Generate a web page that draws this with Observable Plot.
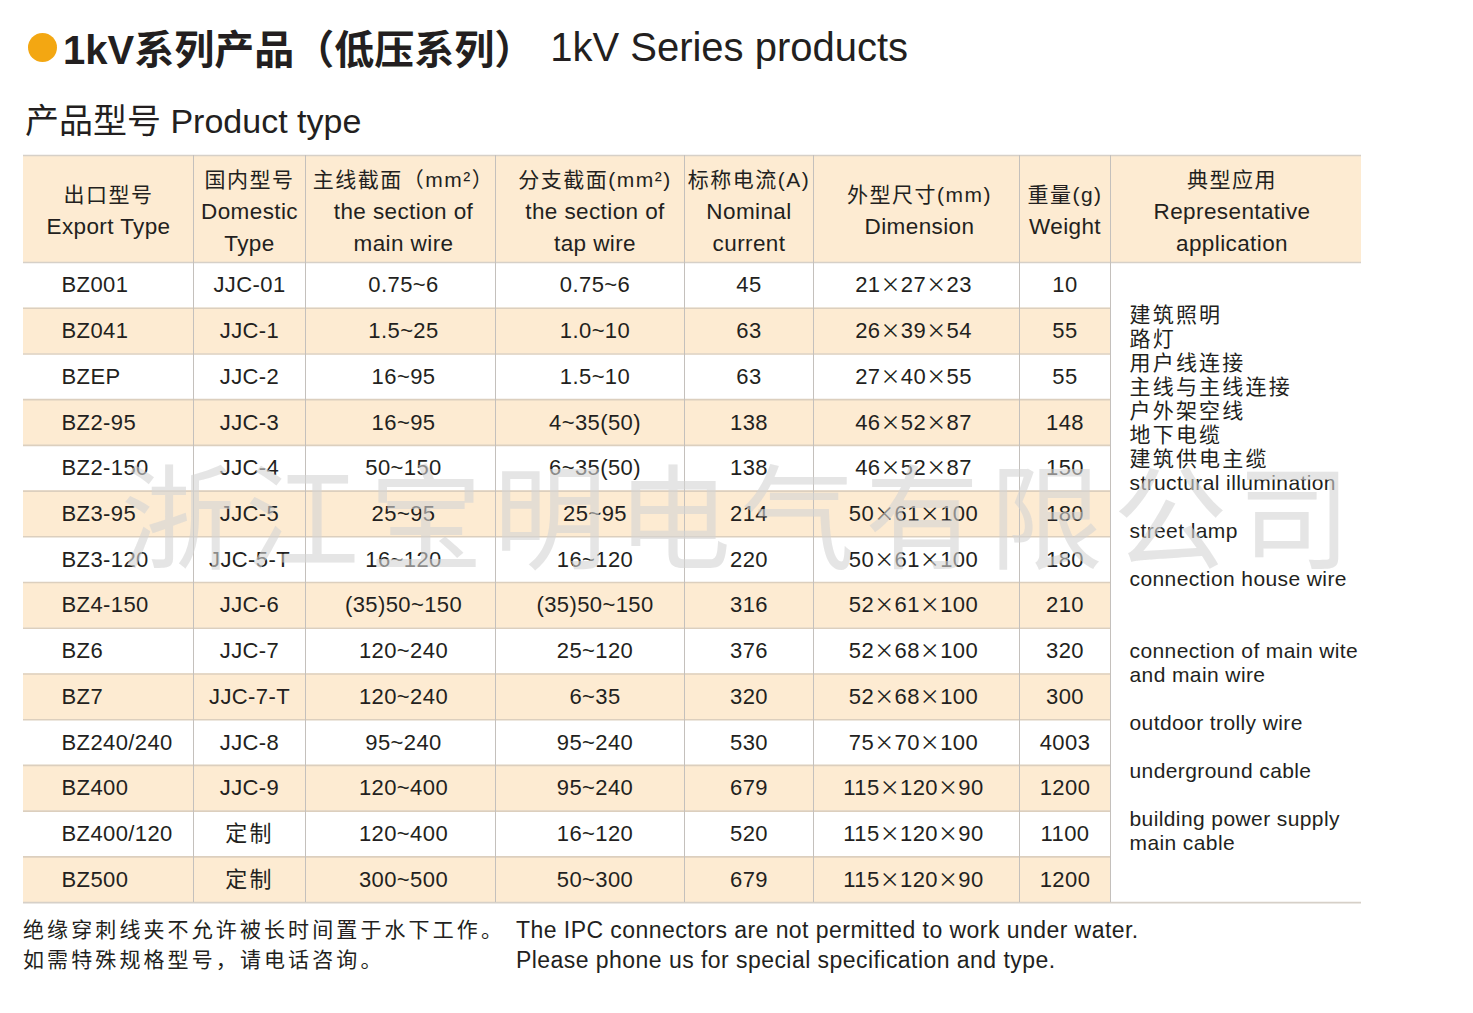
<!DOCTYPE html>
<html><head><meta charset="utf-8">
<script src="https://cdn.jsdelivr.net/npm/d3@7"></script>
<script src="https://cdn.jsdelivr.net/npm/@observablehq/plot@0.6"></script>
<style>
html,body{margin:0;padding:0;background:#fff;}
body{width:1473px;height:1013px;position:relative;overflow:hidden;font-family:"Liberation Sans","Noto Sans CJK SC",sans-serif;color:#231f20;}
#title{position:absolute;left:28px;top:24px;height:46px;display:flex;align-items:center;font-size:40px;white-space:nowrap;}
#title .dot{display:inline-block;width:29px;height:29px;border-radius:50%;background:#F3A712;margin-right:6px;}
#title .zh{font-weight:bold;}
#title .en{margin-left:16px;}
#subtitle{position:absolute;left:25px;top:100px;height:42px;line-height:42px;font-size:34px;white-space:nowrap;}
#chart{position:absolute;left:0;top:150px;}
.foot{position:absolute;top:915px;line-height:30px;white-space:nowrap;}
#footZh{left:23px;font-size:21px;letter-spacing:3.1px;}
#footEn{left:516px;font-size:23px;letter-spacing:0.45px;}
</style>
</head><body>
<div id="title"><span class="dot"></span><span class="zh">1kV系列产品（低压系列）</span><span class="en">1kV Series products</span></div>
<div id="subtitle">产品型号 Product type</div>
<div id="chart"></div>
<div class="foot" id="footZh">绝缘穿刺线夹不允许被长时间置于水下工作。<br>如需特殊规格型号，请电话咨询。</div>
<div class="foot" id="footEn">The IPC connectors are not permitted to work under water.<br>Please phone us for special specification and type.</div>
<script>
// ---- data ----
const headers = [
  "出口型号\nExport Type",
  "国内型号\nDomestic\nType",
  "主线截面（mm²）\nthe section of\nmain wire",
  "分支截面(mm²)\nthe section of\ntap wire",
  "标称电流(A)\nNominal\ncurrent",
  "外型尺寸(mm)\nDimension",
  "重量(g)\nWeight",
  "典型应用\nRepresentative\napplication"
];
const exportType = ["BZ001","BZ041","BZEP","BZ2-95","BZ2-150","BZ3-95","BZ3-120","BZ4-150","BZ6","BZ7","BZ240/240","BZ400","BZ400/120","BZ500"];
const domesticType = ["JJC-01","JJC-1","JJC-2","JJC-3","JJC-4","JJC-5","JJC-5-T","JJC-6","JJC-7","JJC-7-T","JJC-8","JJC-9","定制","定制"];
const mainSection = ["0.75~6","1.5~25","16~95","16~95","50~150","25~95","16~120","(35)50~150","120~240","120~240","95~240","120~400","120~400","300~500"];
const tapSection = ["0.75~6","1.0~10","1.5~10","4~35(50)","6~35(50)","25~95","16~120","(35)50~150","25~120","6~35","95~240","95~240","16~120","50~300"];
const nominalCurrent = [45,63,63,138,138,214,220,316,376,320,530,679,520,679];
const dimension = ["21×27×23","26×39×54","27×40×55","46×52×87","46×52×87","50×61×100","50×61×100","52×61×100","52×68×100","52×68×100","75×70×100","115×120×90","115×120×90","115×120×90"];
const weight = [10,55,55,148,150,180,180,210,320,300,4003,1200,1100,1200];
const applicationLines = [
  "建筑照明","路灯","用户线连接","主线与主线连接","户外架空线","地下电缆","建筑供电主缆",
  "structural illumination","","street lamp","","connection house wire","","",
  "connection of main wite","and main wire","","outdoor trolly wire","","underground cable","",
  "building power supply","main cable"
];
const watermark = "浙江宝明电气有限公司";

// ---- layout ----
const colWidths = [170,112,190,189,129,206,91,251];
const colShift = [0,0,3,5,0,-3,0,-4];
const headerH = 107, rowH = 45.72;
const colStart = [0]; colWidths.forEach((w,i)=>colStart.push(colStart[i]+w));
const colMid = colWidths.map((w,i)=>colStart[i]+w/2);
const totalW = colStart[colStart.length-1];
const dataW = colStart[7];
const nRows = exportType.length;
const tableH = headerH + nRows*rowH;

const columns = [exportType, domesticType, mainSection, tapSection, nominalCurrent, dimension, weight];
const rows = d3.range(nRows).map(i => ({i, y1: headerH + i*rowH, y2: headerH + (i+1)*rowH, yc: headerH + (i+0.5)*rowH}));
const cells = [];
rows.forEach(r => columns.forEach((col, c) => cells.push({c, x: colMid[c] + colShift[c], x0: colStart[c], y: r.yc, text: String(col[r.i])})));
const headerCells = headers.map((h,c)=>({x: colMid[c] + (c === 5 ? 3 : colShift[c]), y: headerH/2, text: h}));

const innerLines = rows.slice(1).map(r => r.y1);
const fullLines = [0, headerH, tableH];
const vLines = colStart.slice(1, 8);

const ink = "#231f20";
const fillBeige = "#FDEBD2";

const plot = Plot.plot({
  width: 1473, height: 760,
  marginTop: 0, marginRight: 0, marginBottom: 0, marginLeft: 0,
  x: {type: "linear", domain: [0, totalW], range: [23, 23 + totalW], axis: null},
  y: {type: "linear", domain: [0, tableH], range: [5, 5 + tableH], axis: null},
  style: {fontFamily: '"Liberation Sans","Noto Sans CJK SC",sans-serif', color: ink, background: "transparent"},
  marks: [
    Plot.rect([{}], {x1: 0, x2: totalW, y1: 0, y2: headerH, fill: fillBeige}),
    Plot.rect(rows.filter(r => r.i % 2 === 1), {x1: 0, x2: dataW, y1: "y1", y2: "y2", fill: fillBeige}),
    Plot.ruleY(innerLines, {x1: 0, x2: dataW, y: d => d, stroke: "#dccfbe", strokeWidth: 1.6}),
    Plot.ruleY(fullLines, {x1: 0, x2: totalW, y: d => d, stroke: "#d6d0c8", strokeWidth: 1.6}),
    Plot.ruleX(vLines, {x: d => d, y1: 0, y2: tableH, stroke: "#c4c0bc", strokeWidth: 1}),
    Plot.text(headerCells, {x: "x", y: "y", text: "text", fontSize: 22.5, lineHeight: 1.42, lineAnchor: "middle", dy: -2, fill: ink, textAnchor: "middle", className: "hdr"}),
    Plot.text(cells.filter(d => d.c === 0), {x: "x0", y: "y", text: "text", textAnchor: "start", dx: 38, fontSize: 22, fill: ink}),
    Plot.text(cells.filter(d => d.c > 0), {x: "x", y: "y", text: "text", textAnchor: "middle", fontSize: 22, fill: ink}),
    Plot.text([applicationLines.join("\n")], {x: colStart[7], y: headerH + nRows*rowH/2, text: d => d, textAnchor: "start", lineAnchor: "middle", dx: 19, dy: -4, fontSize: 21, lineHeight: 24/21, fill: ink}),
    Plot.text([watermark], {x: colMid[4], y: rows[5].yc, text: d => d, textAnchor: "middle", dx: -8, dy: 10, fontSize: 114, fill: "#d3d3d3", fillOpacity: 0.6})
  ]
});
document.getElementById("chart").appendChild(plot);

// letter spacing / glyph tweaks
const cjk = /[\u4e00-\u9fff]/;
const SVGNS = "http://www.w3.org/2000/svg";
plot.querySelectorAll("text, tspan").forEach(el => {
  if (el.querySelector("tspan")) return;
  const t = el.textContent;
  if (t === watermark) { el.style.letterSpacing = "10px"; return; }
  const inHeader = !!el.closest(".hdr");
  if (cjk.test(t)) {
    if (inHeader) { el.style.fontSize = "21px"; el.style.letterSpacing = "1.5px"; }
    else el.style.letterSpacing = "2.2px";
  } else if (t.includes("×")) {
    el.textContent = "";
    el.style.letterSpacing = "0.4px";
    t.split(/(×)/).forEach(part => {
      if (!part) return;
      const s = document.createElementNS(SVGNS, "tspan");
      s.textContent = part;
      if (part === "×") { s.style.fontFamily = '"Noto Sans CJK SC"'; s.style.fontSize = "20px"; }
      el.appendChild(s);
    });
  } else el.style.letterSpacing = "0.4px";
});
</script>
</body></html>
